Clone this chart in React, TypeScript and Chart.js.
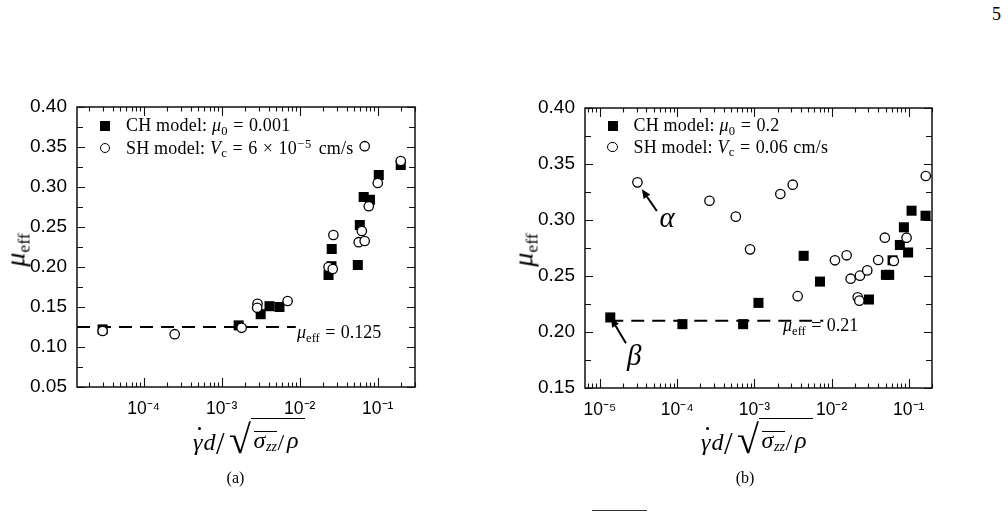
import React, { useEffect, useRef } from "react";
import { Chart, registerables } from "chart.js";

Chart.register(...registerables);

// ---------- Panel (a): CH model (mu0 = 0.001) vs SH model (Vc = 6e-5 cm/s) ----------
const chAX = [2.98e-5, 1.65e-3, 3.16e-3, 4.1e-3, 5.5e-3, 0.0234, 0.0257, 0.0255, 0.0555, 0.0589, 0.066, 0.0794, 0.103, 0.197];
const chAY = [0.122, 0.127, 0.141, 0.151, 0.15, 0.19, 0.2225, 0.201, 0.2025, 0.2525, 0.2875, 0.284, 0.315, 0.3275];
const shAX = [2.98e-5, 2.5e-4, 1.8e-3, 2.88e-3, 2.85e-3, 7.0e-3, 0.0234, 0.0265, 0.027, 0.057, 0.0625, 0.068, 0.068, 0.0767, 0.1, 0.197];
const shAY = [0.12, 0.116, 0.124, 0.154, 0.149, 0.1575, 0.2, 0.1975, 0.24, 0.231, 0.245, 0.2325, 0.351, 0.276, 0.305, 0.3325];
const refAX = [1.4e-5, 8.9e-3];
const refAY = 0.125;
const xRangeA = [1.4e-5, 0.3];
const yRangeA = [0.05, 0.4];

// ---------- Panel (b): CH model (mu0 = 0.2) vs SH model (Vc = 0.06 cm/s) ----------
const chBX = [1.36e-5, 1.17e-4, 7.15e-4, 1.13e-3, 4.35e-3, 7.08e-3, 0.0305, 0.0506, 0.0558, 0.0617, 0.0767, 0.0865, 0.098, 0.1087, 0.165];
const chBY = [0.213, 0.207, 0.207, 0.226, 0.268, 0.245, 0.229, 0.251, 0.251, 0.264, 0.2777, 0.2935, 0.271, 0.3083, 0.3038];
const shBX = [3.06e-5, 2.62e-4, 5.75e-4, 8.8e-4, 2.17e-3, 3.14e-3, 3.64e-3, 0.01107, 0.01567, 0.01766, 0.0218, 0.0229, 0.0233, 0.029, 0.0402, 0.049, 0.0641, 0.0937, 0.166];
const shBY = [0.3336, 0.3172, 0.303, 0.2738, 0.3232, 0.3315, 0.232, 0.264, 0.2685, 0.2476, 0.231, 0.228, 0.2503, 0.255, 0.2643, 0.2842, 0.2634, 0.2842, 0.3393];
const refBX = [1.36e-5, 7.8e-3];
const refBY = 0.21;
const xRangeB = [6.4e-6, 0.2];
const yRangeB = [0.15, 0.4];

// callouts in panel (b): arrows (tail -> head) and the Greek tags
const arrowsB = [
  { from: [5.46e-5, 0.308], to: [3.49e-5, 0.3274] },
  { from: [2.17e-5, 0.1899], to: [1.39e-5, 0.2125] },
];
const tagsB = [
  { text: "α", at: [7.43e-5, 0.2937] },
  { text: "β", at: [2.78e-5, 0.1705] },
];

const yMajorStep = 0.05;
const yMinorStep = 0.025;

const SANS = '"Liberation Sans", Arial, Helvetica, sans-serif';
const SERIF = '"Liberation Serif", "DejaVu Serif", "Times New Roman", serif';

const SUP: Record<string, string> = {
  "-": "⁻", "0": "⁰", "1": "¹", "2": "²", "3": "³", "4": "⁴",
  "5": "⁵", "6": "⁶", "7": "⁷", "8": "⁸", "9": "⁹",
};
const sup = (s: string) => s.split("").map((c) => SUP[c] ?? c).join("");
const toPts = (xs: number[], ys: number[]) => xs.map((x, i) => ({ x, y: ys[i] }));

// Boxed frame with inward ticks on all four sides
function makeFrameTicks() {
  return {
    id: "frameTicks",
    beforeDatasetsDraw(chart: any) {
      const { ctx, chartArea: a } = chart;
      const xs = chart.scales.x;
      const ys = chart.scales.y;
      ctx.save();
      ctx.strokeStyle = "#111";
      ctx.lineWidth = 1.1;
      ctx.beginPath();
      const d0 = Math.floor(Math.log10(xs.min));
      const d1 = Math.ceil(Math.log10(xs.max));
      for (let d = d0; d <= d1; d++) {
        for (let k = 1; k <= 9; k++) {
          const v = k * Math.pow(10, d);
          if (v < xs.min * 0.999 || v > xs.max * 1.001) continue;
          const p = Math.round(xs.getPixelForValue(v)) + 0.5;
          const len = k === 1 ? 9 : 4.5;
          ctx.moveTo(p, a.bottom);
          ctx.lineTo(p, a.bottom - len);
          ctx.moveTo(p, a.top);
          ctx.lineTo(p, a.top + len);
        }
      }
      const n = Math.round((ys.max - ys.min) / yMinorStep);
      for (let i = 0; i <= n; i++) {
        const v = ys.min + i * yMinorStep;
        const p = Math.round(ys.getPixelForValue(v)) + 0.5;
        const len = i % 2 === 0 ? 8 : 6;
        ctx.moveTo(a.left, p);
        ctx.lineTo(a.left + len, p);
        ctx.moveTo(a.right, p);
        ctx.lineTo(a.right - len, p);
      }
      ctx.stroke();
      ctx.lineWidth = 1.5;
      ctx.strokeRect(a.left, a.top, a.right - a.left, a.bottom - a.top);
      ctx.restore();
    },
  };
}

// Arrows and Greek tags placed in data coordinates
function makeCallouts(arrows: { from: number[]; to: number[] }[], tags: { text: string; at: number[] }[]) {
  return {
    id: "callouts",
    afterDatasetsDraw(chart: any) {
      const { ctx } = chart;
      const xs = chart.scales.x;
      const ys = chart.scales.y;
      ctx.save();
      ctx.strokeStyle = "#000";
      ctx.fillStyle = "#000";
      ctx.lineWidth = 2;
      for (const ar of arrows) {
        const x1 = xs.getPixelForValue(ar.from[0]);
        const y1 = ys.getPixelForValue(ar.from[1]);
        const x2 = xs.getPixelForValue(ar.to[0]);
        const y2 = ys.getPixelForValue(ar.to[1]);
        const ang = Math.atan2(y2 - y1, x2 - x1);
        const hl = 9;
        const hw = 4;
        const bx = x2 - hl * Math.cos(ang);
        const by = y2 - hl * Math.sin(ang);
        ctx.beginPath();
        ctx.moveTo(x1, y1);
        ctx.lineTo(bx, by);
        ctx.stroke();
        ctx.beginPath();
        ctx.moveTo(x2, y2);
        ctx.lineTo(bx + hw * Math.sin(ang), by - hw * Math.cos(ang));
        ctx.lineTo(bx - hw * Math.sin(ang), by + hw * Math.cos(ang));
        ctx.closePath();
        ctx.fill();
      }
      ctx.font = `italic 29px ${SERIF}`;
      ctx.textAlign = "center";
      ctx.textBaseline = "alphabetic";
      for (const t of tags) {
        ctx.fillText(t.text, xs.getPixelForValue(t.at[0]), ys.getPixelForValue(t.at[1]));
      }
      ctx.restore();
    },
  };
}

type PanelProps = {
  left: number;
  width: number;
  height: number;
  padTop: number;
  padRight: number;
  xAxisH: number;
  xRange: number[];
  yRange: number[];
  ch: { x: number; y: number }[];
  sh: { x: number; y: number }[];
  refX: number[];
  refY: number;
  arrows?: { from: number[]; to: number[] }[];
  tags?: { text: string; at: number[] }[];
};

function Panel(p: PanelProps) {
  const ref = useRef<HTMLCanvasElement>(null);
  useEffect(() => {
    const chart = new Chart(ref.current as HTMLCanvasElement, {
      type: "scatter",
      data: {
        datasets: [
          {
            label: "SH model",
            data: p.sh,
            pointStyle: "circle",
            pointRadius: 4.7,
            borderWidth: 1.3,
            borderColor: "#000",
            backgroundColor: "#fff",
            order: 0,
          } as any,
          {
            label: "CH model",
            data: p.ch,
            pointStyle: "rect",
            pointRadius: 7.1,
            borderWidth: 0,
            borderColor: "#000",
            backgroundColor: "#000",
            order: 1,
          } as any,
          {
            type: "line",
            label: "mu_eff",
            data: [
              { x: p.refX[0], y: p.refY },
              { x: p.refX[1], y: p.refY },
            ],
            borderColor: "#000",
            borderWidth: 2,
            borderDash: [13, 8],
            pointRadius: 0,
            fill: false,
            order: 2,
          } as any,
        ],
      },
      options: {
        responsive: false,
        animation: false,
        events: [],
        layout: { padding: { left: 0, top: p.padTop, right: p.padRight, bottom: 0 } },
        plugins: { legend: { display: false }, tooltip: { enabled: false } },
        scales: {
          x: {
            type: "logarithmic",
            min: p.xRange[0],
            max: p.xRange[1],
            grid: { display: false, drawTicks: false },
            border: { display: false },
            ticks: {
              autoSkip: false,
              maxRotation: 0,
              minRotation: 0,
              padding: 12,
              color: "#000",
              font: { family: SANS, size: 17.5 },
              callback: (v: any) => {
                const e = Math.log10(Number(v));
                if (Math.abs(e - Math.round(e)) < 1e-6) return "10" + sup(String(Math.round(e)));
                return "";
              },
            },
            afterFit: (s: any) => {
              s.height = p.xAxisH;
            },
          },
          y: {
            type: "linear",
            min: p.yRange[0],
            max: p.yRange[1],
            grid: { display: false, drawTicks: false },
            border: { display: false },
            ticks: {
              stepSize: yMajorStep,
              padding: 10,
              color: "#000",
              font: { family: SANS, size: 19 },
              callback: (v: any) => Number(v).toFixed(2),
            },
            afterFit: (s: any) => {
              s.width = 77;
            },
          },
        },
      } as any,
      plugins: [makeFrameTicks(), makeCallouts(p.arrows || [], p.tags || [])],
    });
    return () => chart.destroy();
  }, []);
  return (
    <canvas
      ref={ref}
      width={p.width}
      height={p.height}
      style={{ position: "absolute", left: p.left, top: 0, width: p.width, height: p.height }}
    />
  );
}

// Text placed by its baseline
function Txt(props: {
  x: number;
  base: number;
  size: number;
  italic?: boolean;
  center?: boolean;
  family?: string;
  style?: React.CSSProperties;
  children: React.ReactNode;
}) {
  const { x, base, size, italic, center, family, style, children } = props;
  return (
    <div
      style={{
        position: "absolute",
        left: x,
        top: base - 0.84 * size,
        fontSize: size,
        lineHeight: `${size}px`,
        fontFamily: family || SERIF,
        fontStyle: italic ? "italic" : "normal",
        whiteSpace: "nowrap",
        color: "#000",
        transform: center ? "translateX(-50%)" : undefined,
        ...style,
      }}
    >
      {children}
    </div>
  );
}

const Sub = ({ children }: { children: React.ReactNode }) => (
  <span style={{ fontSize: "0.7em", position: "relative", top: "0.28em" }}>{children}</span>
);
const Sup = ({ children }: { children: React.ReactNode }) => (
  <span style={{ fontSize: "0.7em", position: "relative", top: "-0.45em", letterSpacing: "0.08em" }}>{children}</span>
);
const Eq = () => <span style={{ margin: "0 0.3em" }}>=</span>;

const legendStyle: React.CSSProperties = { letterSpacing: "0.2px" };

function Legend(props: { x: number; y1: number; y2: number; line1: React.ReactNode; line2: React.ReactNode }) {
  const { x, y1, y2, line1, line2 } = props;
  return (
    <>
      <div style={{ position: "absolute", left: x - 5, top: y1 - 5, width: 10, height: 10, background: "#000" }} />
      <div
        style={{
          position: "absolute",
          left: x - 5.3,
          top: y2 - 5.3,
          width: 10.6,
          height: 10.6,
          boxSizing: "border-box",
          border: "1.3px solid #000",
          borderRadius: "50%",
          background: "#fff",
        }}
      />
      <Txt x={x + 21} base={y1 + 5.5} size={18} style={legendStyle}>{line1}</Txt>
      <Txt x={x + 21} base={y2 + 6} size={18} style={legendStyle}>{line2}</Txt>
    </>
  );
}

function XTitle({ x0 }: { x0: number }) {
  return (
    <div style={{ position: "absolute", left: x0, top: 414, width: 120, height: 50 }}>
      <Txt x={0} base={36} size={24} italic>γ</Txt>
      <div style={{ position: "absolute", left: 5, top: 13, width: 3, height: 3, borderRadius: "50%", background: "#000" }} />
      <Txt x={10.5} base={36} size={24} italic>d</Txt>
      <Txt x={23} base={40} size={31}>/</Txt>
      <Txt x={36} base={40} size={40}>√</Txt>
      <div style={{ position: "absolute", left: 58, top: 4, width: 54, height: 1.3, background: "#000" }} />
      <div style={{ position: "absolute", left: 61, top: 17, width: 23, height: 1, background: "#000" }} />
      <Txt x={60.5} base={34} size={24} italic>σ</Txt>
      <Txt x={73} base={38} size={14} italic>zz</Txt>
      <Txt x={84.5} base={36} size={24}>/</Txt>
      <Txt x={94} base={34} size={24} italic>ρ</Txt>
    </div>
  );
}

function YTitle({ cx, cy }: { cx: number; cy: number }) {
  return (
    <div
      style={{
        position: "absolute",
        left: cx,
        top: cy,
        transform: "translate(-50%, -50%) rotate(-90deg)",
        fontFamily: SERIF,
        fontSize: 28,
        lineHeight: "28px",
        whiteSpace: "nowrap",
        color: "#000",
      }}
    >
      <i>μ</i>
      <span style={{ fontSize: "0.63em", position: "relative", top: "0.3em" }}>eff</span>
    </div>
  );
}

export default function App() {
  return (
    <div
      style={{
        position: "absolute",
        left: 0,
        top: 0,
        width: 1008,
        height: 514,
        background: "#fff",
        overflow: "hidden",
      }}
    >
      <Panel
        left={0}
        width={470}
        height={420}
        padTop={107}
        padRight={55}
        xAxisH={33}
        xRange={xRangeA}
        yRange={yRangeA}
        ch={toPts(chAX, chAY)}
        sh={toPts(shAX, shAY)}
        refX={refAX}
        refY={refAY}
      />
      <Panel
        left={508}
        width={470}
        height={420}
        padTop={108}
        padRight={46}
        xAxisH={32}
        xRange={xRangeB}
        yRange={yRangeB}
        ch={toPts(chBX, chBY)}
        sh={toPts(shBX, shBY)}
        refX={refBX}
        refY={refBY}
        arrows={arrowsB}
        tags={tagsB}
      />

      {/* page number */}
      <Txt x={992} base={20} size={18}>5</Txt>

      {/* legends */}
      <Legend
        x={105}
        y1={126}
        y2={148}
        line1={<>CH model: <i>μ</i><Sub>0</Sub><Eq />0.001</>}
        line2={
          <>
            SH model: <i>V</i><Sub>c</Sub><Eq />6<span style={{ margin: "0 0.3em" }}>×</span>10<Sup>−5</Sup>
            <span style={{ marginLeft: "0.35em" }}>cm/s</span>
          </>
        }
      />
      <Legend
        x={612.5}
        y1={126}
        y2={147}
        line1={<>CH model: <i>μ</i><Sub>0</Sub><Eq />0.2</>}
        line2={<>SH model: <i>V</i><Sub>c</Sub><Eq />0.06<span style={{ marginLeft: "0.3em" }}>cm/s</span></>}
      />

      {/* reference level labels */}
      <Txt x={297} base={338.5} size={18}><i>μ</i><Sub>eff</Sub><Eq />0.125</Txt>
      <Txt x={783} base={331.5} size={18}><i>μ</i><Sub>eff</Sub><Eq />0.21</Txt>

      {/* axis titles */}
      <YTitle cx={17} cy={250} />
      <YTitle cx={525} cy={250} />
      <XTitle x0={193} />
      <XTitle x0={701} />

      {/* panel captions */}
      <Txt x={235.5} base={483} size={16} center>(a)</Txt>
      <Txt x={745} base={483} size={16} center>(b)</Txt>

      {/* edge of the caption line below */}
      <div style={{ position: "absolute", left: 592, top: 510, width: 55, height: 1, background: "#333" }} />
    </div>
  );
}
